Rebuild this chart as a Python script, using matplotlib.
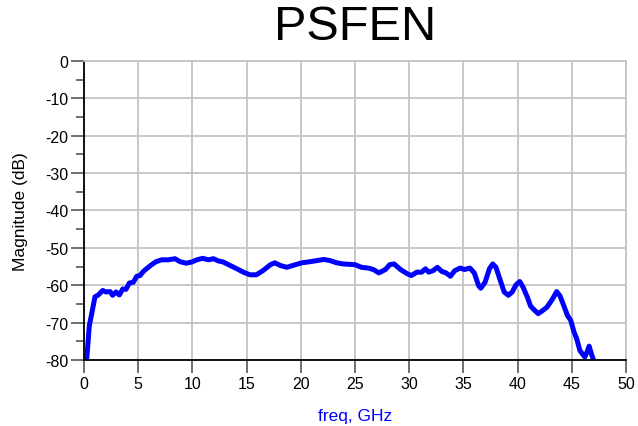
import matplotlib
matplotlib.use('Agg')
import matplotlib.pyplot as plt
from matplotlib.ticker import MultipleLocator
import numpy as np

plt.rcParams['font.family'] = ['Liberation Sans', 'DejaVu Sans']
plt.rcParams['axes.unicode_minus'] = False

# trace (freq in GHz, magnitude in dB)
freq = [0.25, 0.49, 0.71, 1.01, 1.32, 1.72, 2.03, 2.4, 2.64, 2.95, 3.26, 3.57, 3.87,
        4.18, 4.55, 4.86, 5.17, 5.47, 5.93, 6.24, 6.64, 7.16, 7.78, 8.39, 8.86, 9.41,
        9.93, 10.4, 10.95, 11.47, 11.93, 12.4, 12.85, 13.47, 14.1, 14.7, 15.3, 15.9,
        16.5, 17.2, 17.6, 18.1, 18.7, 19.5, 20.1, 20.85, 21.5, 22.1, 22.7, 23.3, 23.9,
        24.4, 25.0, 25.6, 26.2, 26.7, 27.2, 27.8, 28.2, 28.6, 29.2, 29.8, 30.2, 30.7,
        31.15, 31.5, 31.8, 32.2, 32.6, 33.0, 33.4, 33.8, 34.2, 34.7, 35.1, 35.6, 36.0,
        36.4, 36.6, 37.0, 37.4, 37.7, 38.0, 38.4, 38.76, 39.15, 39.5, 39.85, 40.2, 40.5,
        40.9, 41.2, 41.6, 41.9, 42.2, 42.7, 43.2, 43.6, 43.9, 44.2, 44.6, 44.9, 45.2,
        45.45, 45.75, 46.2, 46.4, 46.6, 46.8, 47.0]
mag = [-79.7, -70.8, -67.6, -63.1, -62.6, -61.4, -61.8, -61.7, -62.7, -61.8, -62.6, -61.0,
       -61.1, -59.4, -59.2, -57.6, -57.4, -56.3, -55.2, -54.5, -53.7, -53.2, -53.2, -52.9,
       -53.7, -54.1, -53.8, -53.2, -52.8, -53.2, -52.9, -53.5, -53.8, -54.7, -55.6, -56.5,
       -57.2, -57.2, -56.1, -54.5, -54.0, -54.7, -55.2, -54.5, -54.0, -53.7, -53.4, -53.1,
       -53.4, -54.0, -54.3, -54.4, -54.5, -55.2, -55.4, -55.8, -56.7, -55.8, -54.5, -54.3,
       -55.8, -56.9, -57.4, -56.5, -56.5, -55.6, -56.5, -56.1, -55.2, -56.3, -56.7, -57.6,
       -56.1, -55.4, -55.8, -55.4, -56.7, -60.1, -60.8, -59.2, -55.6, -54.3, -55.2, -58.7,
       -61.8, -62.7, -61.8, -59.9, -59.0, -60.5, -63.2, -65.6, -66.8, -67.6, -67.0, -65.9,
       -63.8, -61.7, -62.8, -65.0, -68.1, -69.4, -72.5, -74.3, -77.5, -79.2, -77.9, -76.3,
       -78.3, -80.0]

fig = plt.figure(figsize=(6.38, 4.27), dpi=100)
ax = fig.add_axes([0.1317, 0.1546, 0.8495, 0.7002])

ax.plot(freq, mag, color='#0000ff', lw=3.6, solid_joinstyle='round', clip_on=True)

ax.set_xlim(0, 50)
ax.set_ylim(-80, 0)
ax.xaxis.set_major_locator(MultipleLocator(5))
ax.yaxis.set_major_locator(MultipleLocator(10))
ax.yaxis.set_minor_locator(MultipleLocator(5))
ax.grid(True, which='major', color='#c4c4c4', lw=1.3)
ax.tick_params(which='major', direction='out', length=9.5, width=1.2, color='#555555',
               labelsize=11.5, pad=2)
ax.tick_params(which='minor', direction='out', length=6, width=1.2, color='#555555')
for s in ['top', 'right']:
    ax.spines[s].set_color('#c4c4c4')
    ax.spines[s].set_linewidth(1.3)
for s in ['left', 'bottom']:
    ax.spines[s].set_color('black')
    ax.spines[s].set_linewidth(1.3)

ax.set_ylabel('Magnitude (dB)', fontsize=12.5, labelpad=12)
ax.set_xlabel('freq, GHz', fontsize=12.5, color='#0000ff', labelpad=12)
fig.text(0.556, 0.935, 'PSFEN', fontsize=35, ha='center', va='center')

fig.savefig('out.png', dpi=100)
